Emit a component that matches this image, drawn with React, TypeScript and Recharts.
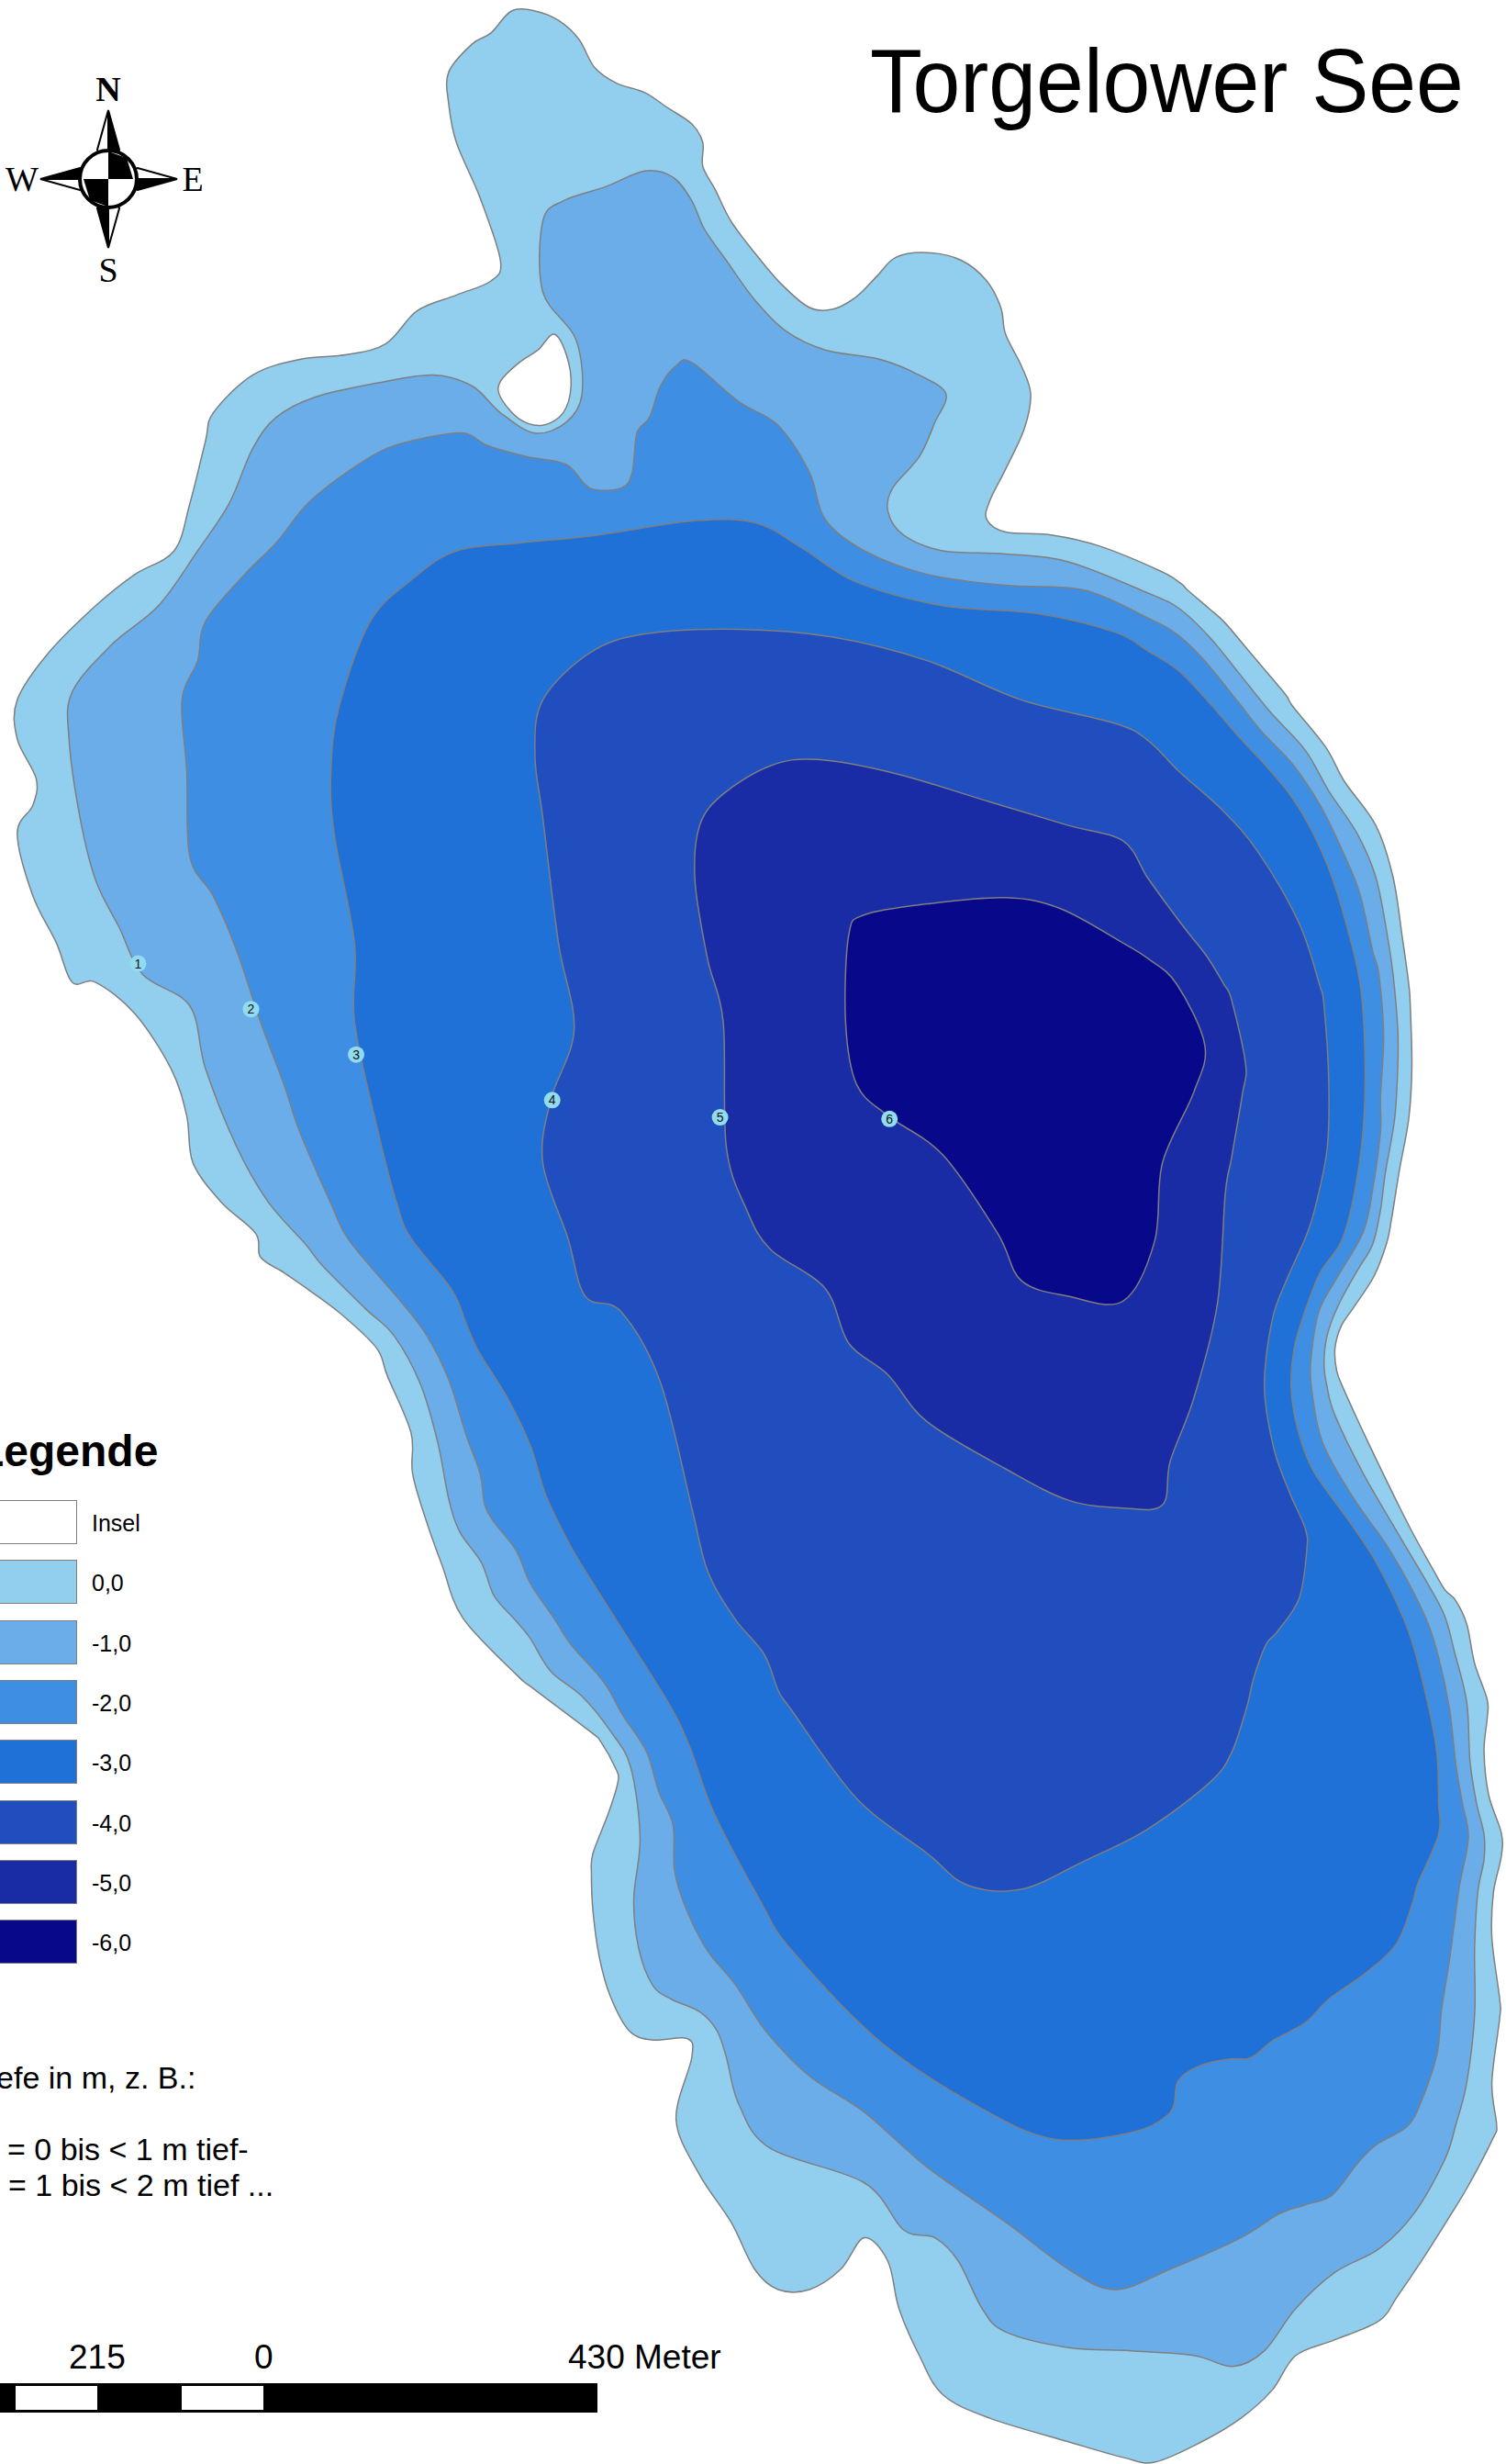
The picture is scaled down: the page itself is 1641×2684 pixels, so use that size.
import { Scatter, ScatterChart, XAxis, YAxis } from "recharts";

// Contours, in map units (x east, y south)
const shore0 = [[325,6],[340,6],[355,12],[368,24],[378,42],[392,52],[410,58],[425,68],[440,78],[447,90],[447,105],[455,120],[465,140],[480,160],[497,180],[515,195],[530,196],[545,188],[558,175],[570,163],[590,160],[612,165],[628,178],[637,195],[640,212],[650,232],[656,250],[652,272],[640,298],[630,318],[628,330],[640,338],[670,340],[700,347],[739,363],[752,371],[756,375],[770,387],[780,396],[796,415],[818,441],[823,449],[844,475],[856,497],[876,525],[887,558],[893,597],[897,626],[898,640],[899,679],[897,712],[891,745],[886,776],[883,791],[875,812],[862,832],[854,844],[850,858],[851,872],[855,883],[872,920],[897,971],[913,1000],[920,1012],[927,1019],[934,1034],[939,1059],[947,1082],[947,1094],[945,1115],[948,1143],[956,1167],[956,1182],[951,1205],[950,1234],[955,1273],[955,1285],[950,1326],[953,1353],[951,1361],[936,1390],[924,1410],[905,1440],[890,1462],[878,1478],[850,1490],[825,1500],[810,1522],[790,1540],[765,1555],[735,1568],[715,1565],[680,1555],[630,1540],[600,1525],[585,1500],[572,1470],[565,1440],[550,1425],[535,1445],[515,1458],[495,1458],[480,1445],[465,1415],[445,1385],[430,1350],[440,1310],[437,1298],[415,1299],[400,1293],[388,1271],[381,1246],[377,1217],[376,1193],[377,1180],[387,1154],[393,1134],[391,1125],[382,1109],[376,1103],[339,1075],[328,1066],[294,1030],[281,997],[271,969],[262,938],[261,912],[246,876],[239,858],[216,836],[193,819],[180,810],[165,800],[162,785],[140,765],[122,740],[118,710],[108,680],[85,645],[60,625],[45,625],[35,600],[20,570],[10,530],[20,512],[22,495],[10,470],[10,445],[30,415],[60,385],[85,365],[110,350],[120,320],[130,280],[135,262],[160,238],[190,228],[220,225],[245,218],[265,197],[290,187],[312,178],[318,165],[305,125],[290,90],[285,65],[285,45],[300,27],[312,20]];
const depth1 = [[345,140],[358,127],[385,118],[410,108],[428,112],[440,127],[448,145],[462,165],[480,190],[500,210],[525,222],[560,228],[585,238],[602,250],[595,268],[585,290],[568,310],[565,325],[575,340],[600,350],[640,352],[680,357],[731,377],[751,387],[770,405],[788,427],[809,453],[831,477],[846,503],[864,530],[876,558],[883,593],[887,620],[890,655],[890,679],[888,712],[882,747],[879,770],[874,792],[864,809],[852,831],[845,850],[843,868],[845,883],[850,901],[868,938],[893,981],[909,1008],[920,1029],[926,1051],[934,1084],[936,1121],[940,1147],[945,1168],[945,1184],[941,1205],[939,1240],[939,1283],[934,1326],[927,1353],[920,1375],[900,1410],[878,1432],[850,1447],[825,1470],[805,1497],[785,1507],[760,1500],[720,1497],[680,1495],[640,1485],[625,1470],[610,1440],[595,1425],[575,1420],[550,1390],[490,1368],[470,1340],[462,1310],[456,1293],[445,1281],[427,1273],[415,1264],[406,1240],[403,1209],[407,1170],[401,1125],[388,1102],[370,1080],[350,1064],[337,1043],[328,1032],[314,1016],[306,995],[292,975],[285,954],[278,918],[267,881],[250,850],[232,833],[205,806],[193,791],[170,765],[150,730],[130,680],[120,640],[90,620],[75,590],[60,560],[50,520],[43,470],[45,440],[70,410],[100,385],[125,350],[145,320],[160,285],[175,265],[200,252],[240,243],[275,238],[300,245],[318,262],[340,275],[360,268],[370,250],[366,215],[345,185]];
const depth2 = [[430,232],[420,245],[413,265],[405,275],[402,300],[395,310],[375,310],[360,295],[335,290],[310,283],[295,275],[270,278],[245,285],[220,300],[195,320],[175,345],[155,365],[130,395],[125,420],[115,445],[118,490],[120,545],[135,570],[150,605],[165,650],[180,690],[190,720],[210,766],[222,790],[255,829],[271,850],[285,878],[296,913],[305,938],[308,958],[314,969],[328,987],[337,1008],[352,1030],[363,1047],[384,1071],[396,1092],[411,1115],[419,1141],[428,1162],[429,1191],[437,1217],[450,1242],[468,1264],[487,1293],[515,1322],[550,1345],[590,1380],[640,1415],[680,1445],[710,1458],[745,1445],[790,1425],[814,1410],[831,1404],[848,1398],[864,1378],[876,1366],[896,1354],[905,1338],[915,1308],[918,1279],[923,1248],[929,1203],[935,1170],[931,1147],[927,1123],[923,1088],[916,1055],[907,1028],[885,987],[862,954],[842,918],[835,883],[835,862],[840,834],[852,812],[868,784],[874,757],[879,720],[879,698],[881,659],[878,620],[874,605],[866,569],[856,544],[841,513],[823,486],[803,465],[788,446],[766,419],[749,403],[731,393],[690,375],[640,372],[590,365],[550,350],[525,330],[515,300],[495,270],[470,255],[440,230]];
const depth3 = [[215,450],[235,395],[262,368],[290,350],[330,345],[380,340],[440,331],[480,332],[510,348],[545,370],[600,385],[660,390],[710,402],[731,414],[751,427],[770,447],[790,470],[805,486],[821,505],[835,528],[848,558],[858,591],[866,626],[869,669],[868,718],[862,761],[854,790],[840,811],[830,837],[824,858],[822,883],[826,909],[836,936],[858,967],[877,996],[897,1039],[909,1084],[915,1117],[916,1147],[916,1168],[903,1199],[899,1213],[889,1238],[870,1256],[846,1273],[831,1288],[811,1299],[800,1308],[794,1311],[784,1311],[765,1315],[750,1325],[745,1345],[720,1358],[670,1362],[620,1340],[560,1300],[503,1241],[484,1211],[454,1154],[439,1113],[425,1084],[391,1030],[369,995],[361,981],[347,952],[337,920],[322,889],[304,860],[296,842],[287,821],[261,788],[252,766],[240,720],[225,650],[225,600],[212,530],[210,490]];
const depth4 = [[345,445],[375,415],[410,403],[470,400],[530,405],[590,420],[650,445],[710,460],[731,471],[751,491],[778,515],[801,542],[827,587],[840,626],[843,640],[846,688],[845,731],[837,770],[831,788],[819,815],[810,840],[805,883],[811,922],[821,950],[831,973],[832,987],[827,1018],[813,1039],[806,1047],[798,1069],[794,1086],[784,1116],[770,1135],[730,1165],[690,1185],[650,1203],[615,1200],[590,1180],[545,1145],[503,1088],[495,1076],[486,1053],[467,1030],[450,1000],[440,960],[420,880],[395,835],[372,825],[361,788],[345,740],[350,700],[365,655],[355,600],[345,520],[340,480]];
const depth5 = [[445,525],[460,505],[490,487],[520,483],[570,492],[630,510],[680,525],[715,535],[731,559],[753,589],[768,608],[779,626],[784,636],[793,677],[791,696],[784,737],[780,760],[775,830],[760,890],[745,930],[740,958],[715,960],[680,955],[640,935],[590,905],[565,875],[540,855],[525,820],[490,795],[475,770],[462,730],[460,650],[450,610],[442,560]];
const depth6 = [[540,595],[550,582],[590,575],[640,571],[675,578],[715,600],[731,610],[749,626],[767,665],[760,695],[740,740],[735,790],[715,828],[680,825],[650,815],[635,785],[600,735],[565,710],[545,690],[538,650]];
const island = [[352,212],[360,225],[363,245],[358,262],[345,270],[330,266],[318,252],[318,242],[330,230],[342,222]];

const profilePoints = [
  { x: 87, y: 613, label: "1" },
  { x: 159, y: 642, label: "2" },
  { x: 226, y: 671, label: "3" },
  { x: 351, y: 700, label: "4" },
  { x: 458, y: 711, label: "5" },
  { x: 566, y: 712, label: "6" },
];

const legendLabels = ["Insel", "0,0", "-1,0", "-2,0", "-3,0", "-4,0", "-5,0", "-6,0"];
const legendColors = ["#ffffff", "#92cfee", "#6badE8", "#3e8fe4", "#1f70d7", "#214ebe", "#1a2ba6", "#08088b"];
const contours = [shore0, depth1, depth2, depth3, depth4, depth5, depth6];
const scaleLabels = ["215", "0", "430 Meter"];

const W = 1641;
const H = 2684;
const K = W / 960;
const FONT = "'Liberation Sans', Arial, sans-serif";

// closed catmull-rom through the traced points
function smoothPath(pts: { x: number; y: number }[]) {
  const n = pts.length;
  let d = `M${pts[0].x},${pts[0].y}`;
  for (let i = 0; i < n; i++) {
    const p0 = pts[(i - 1 + n) % n];
    const p1 = pts[i];
    const p2 = pts[(i + 1) % n];
    const p3 = pts[(i + 2) % n];
    d += `C${p1.x + (p2.x - p0.x) / 6},${p1.y + (p2.y - p0.y) / 6} ${p2.x - (p3.x - p1.x) / 6},${p2.y - (p3.y - p1.y) / 6} ${p2.x},${p2.y}`;
  }
  return d + "Z";
}

const toRows = (list: number[][]) => list.map(([x, y]) => ({ x, y }));

function contourShape(fill: string) {
  return (props: any) => (
    <path d={smoothPath(props.points)} fill={fill} stroke="#7f7f7f" strokeWidth={1.5} strokeLinejoin="round" />
  );
}

const NoMark = () => null;

function ProfileMark(props: any) {
  return (
    <g>
      <circle cx={props.cx} cy={props.cy} r={9} fill="#92dcf2" />
      <text x={props.cx} y={props.cy + 5} textAnchor="middle" fontSize={14} fontFamily={FONT} fill="#111">
        {props.payload.label}
      </text>
    </g>
  );
}

function Compass() {
  const serif = { fontFamily: "'Liberation Serif', serif", fontSize: 38, fill: "#000" };
  return (
    <svg width={250} height={300} style={{ position: "absolute", left: 0, top: 60 }}>
      <g stroke="#000" strokeWidth={2} strokeLinejoin="miter">
        <polygon points="118,60 106,103 118,135" fill="#fff" />
        <polygon points="118,60 130,103 118,135" fill="#000" />
        <polygon points="193,135 150,123 118,135" fill="#fff" />
        <polygon points="193,135 150,147 118,135" fill="#000" />
        <polygon points="118,210 130,167 118,135" fill="#fff" />
        <polygon points="118,210 106,167 118,135" fill="#000" />
        <polygon points="44,135 87,147 118,135" fill="#fff" />
        <polygon points="44,135 87,123 118,135" fill="#000" />
      </g>
      <circle cx={118} cy={135} r={31} fill="#fff" stroke="#000" strokeWidth={4} />
      <polygon points="118,105 138,112 145,135 118,135" fill="#000" />
      <polygon points="118,165 98,158 91,135 118,135" fill="#000" />
      <text x={118} y={50} textAnchor="middle" fontWeight={700} {...serif}>N</text>
      <text x={118} y={247} textAnchor="middle" {...serif}>S</text>
      <text x={24} y={148} textAnchor="middle" {...serif}>W</text>
      <text x={210} y={148} textAnchor="middle" {...serif}>E</text>
    </svg>
  );
}

function Overlay() {
  const abs = { position: "absolute", fontFamily: FONT, color: "#000", whiteSpace: "nowrap", lineHeight: 1 } as const;
  return (
    <>
      <div style={{ ...abs, left: 948, top: 39, fontSize: 98, transform: "scaleX(0.95)", transformOrigin: "left top" }}>Torgelower See</div>
      <Compass />
      <div style={{ ...abs, left: -25, top: 1557, fontSize: 48, fontWeight: 700 }}>Legende</div>
      {legendLabels.map((label, i) => (
        <div key={label}>
          <div
            style={{
              position: "absolute",
              left: -10,
              top: 1634 + i * 65.3,
              width: 94,
              height: 48,
              boxSizing: "border-box",
              background: legendColors[i],
              border: "1.5px solid #7f7f7f",
            }}
          />
          <div style={{ ...abs, left: 100, top: 1647 + i * 65.3, fontSize: 25 }}>{label}</div>
        </div>
      ))}
      <div style={{ ...abs, left: -31, top: 2246, fontSize: 34 }}>Tiefe in m, z. B.:</div>
      <div style={{ ...abs, left: 8, top: 2324, fontSize: 34 }}>= 0 bis &lt; 1 m tief-</div>
      <div style={{ ...abs, left: 9, top: 2363, fontSize: 34 }}>= 1 bis &lt; 2 m tief ...</div>
      <div style={{ ...abs, left: 75, top: 2549, fontSize: 37 }}>{scaleLabels[0]}</div>
      <div style={{ ...abs, left: 277, top: 2549, fontSize: 37 }}>{scaleLabels[1]}</div>
      <div style={{ ...abs, left: 619, top: 2549, fontSize: 37 }}>{scaleLabels[2]}</div>
      <div style={{ position: "absolute", left: 0, top: 2596, width: 651, height: 32, background: "#000" }} />
      <div style={{ position: "absolute", left: 17, top: 2599, width: 89, height: 26, background: "#fff" }} />
      <div style={{ position: "absolute", left: 198, top: 2599, width: 89, height: 26, background: "#fff" }} />
    </>
  );
}

export default function App() {
  return (
    <div style={{ position: "absolute", left: 0, top: 0, width: W, height: H, overflow: "hidden", background: "#fff" }}>
      <ScatterChart width={W} height={H} margin={{ top: 0, right: 0, bottom: 0, left: 0 }}>
        <XAxis type="number" dataKey="x" domain={[-1, W / K - 1]} allowDataOverflow hide />
        <YAxis type="number" dataKey="y" domain={[-1, H / K - 1]} allowDataOverflow reversed hide />
        {contours.map((c, i) => (
          <Scatter
            key={i}
            data={toRows(c)}
            line={contourShape(legendColors[i + 1])}
            shape={NoMark}
            isAnimationActive={false}
          />
        ))}
        <Scatter data={toRows(island)} line={contourShape("#ffffff")} shape={NoMark} isAnimationActive={false} />
        <Scatter data={profilePoints} shape={ProfileMark} isAnimationActive={false} />
      </ScatterChart>
      <Overlay />
    </div>
  );
}
